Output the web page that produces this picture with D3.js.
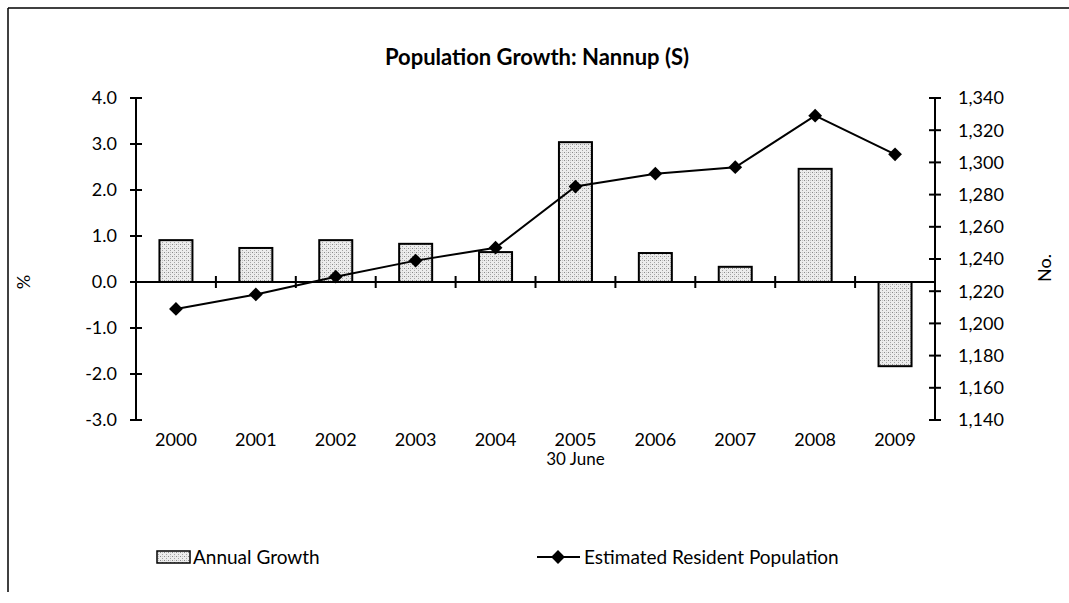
<!DOCTYPE html>
<html>
<head>
<meta charset="utf-8">
<script src="https://cdn.jsdelivr.net/npm/d3@7/dist/d3.min.js"></script>
<style>
  body { margin: 0; background: #fff; }
  svg text { font-family: Lato, "Open Sans", sans-serif; fill: #000; }
</style>
</head>
<body>
<div id="chart"></div>
<script>
// chart data
const years = ["2000", "2001", "2002", "2003", "2004", "2005", "2006", "2007", "2008", "2009"];
const annualGrowth = [0.91, 0.74, 0.91, 0.83, 0.65, 3.04, 0.63, 0.33, 2.46, -1.83];
const population = [1209, 1218, 1229, 1239, 1247, 1285, 1293, 1297, 1329, 1305];
const leftTicks = [4, 3, 2, 1, 0, -1, -2, -3];
const rightTicks = [1340, 1320, 1300, 1280, 1260, 1240, 1220, 1200, 1180, 1160, 1140];

const W = 1069, H = 603;
const plot = { left: 136, right: 935, top: 98, bottom: 420 };

const svg = d3.select("#chart").append("svg")
    .attr("width", W)
    .attr("height", H);

// stipple pattern for the bars
const defs = svg.append("defs");
const pat = defs.append("pattern")
    .attr("id", "stipple")
    .attr("width", 4).attr("height", 4)
    .attr("patternUnits", "userSpaceOnUse");
pat.append("rect").attr("width", 4).attr("height", 4).attr("fill", "#ececec");
pat.append("rect").attr("x", 0).attr("y", 0).attr("width", 1).attr("height", 1).attr("fill", "#8a8a8a");
pat.append("rect").attr("x", 2).attr("y", 2).attr("width", 1).attr("height", 1).attr("fill", "#a5a5a5");
pat.append("rect").attr("x", 2).attr("y", 0).attr("width", 1).attr("height", 1).attr("fill", "#c4c4c4");

// outer frame (left and top edges show)
svg.append("line").attr("x1", 8).attr("x2", 8).attr("y1", 8).attr("y2", 592)
    .attr("stroke", "#000").attr("stroke-width", 1.5);
svg.append("line").attr("x1", 8).attr("x2", W).attr("y1", 8).attr("y2", 8)
    .attr("stroke", "#000").attr("stroke-width", 1.5);

// scales
const x = d3.scaleBand().domain(years).range([plot.left, plot.right]);
const yL = d3.scaleLinear().domain([-3, 4]).range([plot.bottom, plot.top]);
const yR = d3.scaleLinear().domain([1140, 1340]).range([plot.bottom, plot.top]);
const fmtPct = v => d3.format(".1f")(v).replace("\u2212", "-");

// title
svg.append("text")
    .attr("x", 537).attr("y", 65)
    .attr("text-anchor", "middle")
    .style("font-size", "22px").style("font-weight", "bold")
    .text("Population Growth: Nannup (S)");

// bars
const barW = 33;
svg.append("g").selectAll("rect")
    .data(annualGrowth)
    .enter().append("rect")
    .attr("x", (d, i) => x(years[i]) + x.bandwidth() / 2 - barW / 2)
    .attr("y", d => yL(Math.max(0, d)))
    .attr("width", barW)
    .attr("height", d => Math.abs(yL(d) - yL(0)))
    .attr("fill", "url(#stipple)")
    .attr("stroke", "#000")
    .attr("stroke-width", 2);

// left axis
const leftAxis = svg.append("g");
leftAxis.append("line")
    .attr("x1", plot.left).attr("x2", plot.left)
    .attr("y1", yL(4)).attr("y2", yL(-3))
    .attr("stroke", "#000").attr("stroke-width", 2);
leftAxis.selectAll("line.tick").data(leftTicks).enter().append("line")
    .attr("class", "tick")
    .attr("x1", plot.left - 6).attr("x2", plot.left + 6)
    .attr("y1", d => yL(d)).attr("y2", d => yL(d))
    .attr("stroke", "#000").attr("stroke-width", 2);
leftAxis.selectAll("text").data(leftTicks).enter().append("text")
    .attr("x", 117).attr("y", d => yL(d))
    .attr("dy", "0.35em")
    .attr("text-anchor", "end")
    .style("font-size", "18px")
    .text(fmtPct);

// right axis
const rightAxis = svg.append("g");
rightAxis.append("line")
    .attr("x1", plot.right).attr("x2", plot.right)
    .attr("y1", yR(1340)).attr("y2", yR(1140))
    .attr("stroke", "#000").attr("stroke-width", 2);
rightAxis.selectAll("line.tick").data(rightTicks).enter().append("line")
    .attr("class", "tick")
    .attr("x1", plot.right - 6).attr("x2", plot.right + 6)
    .attr("y1", d => yR(d)).attr("y2", d => yR(d))
    .attr("stroke", "#000").attr("stroke-width", 2);
rightAxis.selectAll("text").data(rightTicks).enter().append("text")
    .attr("x", 958).attr("y", d => yR(d))
    .attr("dy", "0.35em")
    .attr("text-anchor", "start")
    .style("font-size", "18px")
    .text(d3.format(","));

// category axis along the zero line
const xAxis = svg.append("g");
xAxis.append("line")
    .attr("x1", plot.left).attr("x2", plot.right)
    .attr("y1", yL(0)).attr("y2", yL(0))
    .attr("stroke", "#000").attr("stroke-width", 2);
xAxis.selectAll("line.tick").data(years.slice(1)).enter().append("line")
    .attr("class", "tick")
    .attr("x1", d => x(d)).attr("x2", d => x(d))
    .attr("y1", yL(0) - 6).attr("y2", yL(0) + 6)
    .attr("stroke", "#000").attr("stroke-width", 2);
xAxis.selectAll("text").data(years).enter().append("text")
    .attr("x", d => x(d) + x.bandwidth() / 2)
    .attr("y", 446)
    .attr("text-anchor", "middle")
    .style("font-size", "18px")
    .text(d => d);
svg.append("text")
    .attr("x", x("2005") + x.bandwidth() / 2).attr("y", 465)
    .attr("text-anchor", "middle")
    .style("font-size", "17px")
    .text("30 June");

// axis titles
svg.append("text")
    .attr("transform", "translate(30,282) rotate(-90)")
    .attr("text-anchor", "middle")
    .style("font-size", "18px")
    .text("%");
svg.append("text")
    .attr("transform", "translate(1051,268) rotate(-90)")
    .attr("text-anchor", "middle")
    .style("font-size", "18px")
    .text("No.");

// population line
const line = d3.line()
    .x((d, i) => x(years[i]) + x.bandwidth() / 2)
    .y(d => yR(d));
svg.append("path")
    .datum(population)
    .attr("d", line)
    .attr("fill", "none")
    .attr("stroke", "#000")
    .attr("stroke-width", 2);
const diamond = d3.symbol().type(d3.symbolSquare).size(95);
svg.append("g").selectAll("path")
    .data(population)
    .enter().append("path")
    .attr("d", diamond)
    .attr("transform", (d, i) => `translate(${x(years[i]) + x.bandwidth() / 2},${yR(d)}) rotate(45)`)
    .attr("fill", "#000");

// legend
const legend = svg.append("g");
legend.append("rect")
    .attr("x", 157).attr("y", 551).attr("width", 33).attr("height", 12)
    .attr("fill", "url(#stipple)").attr("stroke", "#000").attr("stroke-width", 1.5);
legend.append("text")
    .attr("x", 193).attr("y", 557).attr("dy", "0.35em")
    .style("font-size", "19px")
    .text("Annual Growth");
legend.append("line")
    .attr("x1", 537).attr("x2", 580).attr("y1", 557).attr("y2", 557)
    .attr("stroke", "#000").attr("stroke-width", 2);
legend.append("path")
    .attr("d", diamond)
    .attr("transform", "translate(558,557) rotate(45)")
    .attr("fill", "#000");
legend.append("text")
    .attr("x", 584).attr("y", 557).attr("dy", "0.35em")
    .style("font-size", "19px")
    .text("Estimated Resident Population");
</script>
</body>
</html>
